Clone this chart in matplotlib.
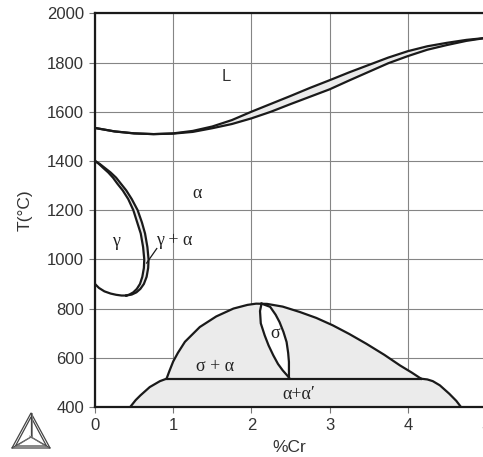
import matplotlib
matplotlib.use("Agg")
import matplotlib.pyplot as plt
from matplotlib.lines import Line2D
from matplotlib.patches import Polygon

# ---------------- data ----------------
liq_x = [0, 0.25, 0.5, 0.75, 1.0, 1.25, 1.5, 1.75, 2.0, 2.25, 2.5, 2.75, 3.0,
         3.25, 3.5, 3.75, 4.0, 4.25, 4.5, 4.75, 5.0]
liquidus_T = [1534, 1520, 1512, 1509, 1512, 1522, 1540, 1566, 1600, 1632, 1664,
              1697, 1728, 1760, 1790, 1820, 1846, 1866, 1880, 1892, 1900]
solidus_T = [1534, 1520, 1512, 1509, 1511, 1518, 1533, 1550, 1573, 1600, 1631,
             1661, 1691, 1727, 1762, 1797, 1826, 1852, 1871, 1888, 1900]

gamma_T = [1400, 1388, 1373, 1353, 1332, 1308, 1280, 1245, 1200, 1150, 1105,
           1050, 1000, 965, 929, 900, 880, 866, 857, 853]
gamma_outer_x = [0, 0.06, 0.12, 0.20, 0.27, 0.33, 0.40, 0.47, 0.545, 0.60, 0.64,
                 0.67, 0.685, 0.68, 0.66, 0.625, 0.58, 0.53, 0.47, 0.40]
gamma_inner_x = [0, 0.05, 0.10, 0.17, 0.23, 0.285, 0.355, 0.425, 0.49, 0.54, 0.585,
                 0.615, 0.63, 0.625, 0.605, 0.575, 0.535, 0.49, 0.44, 0.40]
gamma_low_x = [0.40, 0.34, 0.27, 0.20, 0.12, 0.05, 0]
gamma_low_T = [853, 853, 856, 861, 870, 884, 900]

dome_x = [0.915, 0.95, 1.0, 1.06, 1.15, 1.34, 1.55, 1.77, 1.95, 2.06, 2.2, 2.4,
          2.62, 2.83, 3.04, 3.25, 3.47, 3.7, 3.90, 4.05, 4.17]
dome_T = [515, 545, 585, 620, 665, 725, 768, 800, 815, 820, 819, 808,
          786, 762, 732, 697, 657, 612, 569, 540, 515]

gap_left_x = [0.45, 0.52, 0.58, 0.70, 0.83, 0.915]
gap_left_T = [400, 428, 447, 481, 505, 515]
gap_right_x = [4.17, 4.25, 4.32, 4.41, 4.53, 4.62, 4.68]
gap_right_T = [515, 512, 505, 488, 454, 425, 400]
eutectoid_T = 515

sigma_left_x = [2.13, 2.11, 2.12, 2.17, 2.22, 2.28, 2.34, 2.40, 2.48]
sigma_left_T = [820, 790, 740, 691, 650, 610, 575, 549, 520]
sigma_right_x = [2.13, 2.24, 2.31, 2.36, 2.41, 2.45, 2.47, 2.48, 2.48]
sigma_right_T = [820, 807, 775, 745, 705, 664, 620, 583, 520]

x_ticks = [0, 1, 2, 3, 4, 5]
y_ticks = [400, 600, 800, 1000, 1200, 1400, 1600, 1800, 2000]

# ---------------- figure ----------------
W, H = 483, 457
fig = plt.figure(figsize=(W / 100, H / 100), dpi=100)
ax = fig.add_axes([95 / W, 50 / H, 391 / W, 393.7 / H])
ax.set_xlim(0, 5)
ax.set_ylim(400, 2000)

SANS = ["Liberation Sans", "DejaVu Sans"]
SERIF = ["Liberation Serif", "DejaVu Serif"]
fill_c = "#ebebeb"
lc = "#1a1a1a"
lw = 1.6

ax.set_xticks(x_ticks)
ax.set_yticks(y_ticks)
ax.set_xticklabels([str(v) for v in x_ticks], fontfamily=SANS, fontsize=12, color="#333333")
ax.set_yticklabels([str(v) for v in y_ticks], fontfamily=SANS, fontsize=12, color="#333333")
ax.tick_params(direction="out", length=4, width=0.8, color="#777777", pad=4)
ax.grid(True, color="#858585", linewidth=0.8, zorder=0)
ax.set_axisbelow(True)
for s in ["left", "bottom", "top"]:
    ax.spines[s].set_linewidth(1.6)
    ax.spines[s].set_color(lc)
ax.spines["right"].set_visible(False)

# liquid/solid
ax.fill_between(liq_x, solidus_T, liquidus_T, color=fill_c, zorder=2, lw=0)
ax.plot(liq_x, liquidus_T, color=lc, lw=lw, zorder=4)
ax.plot(liq_x, solidus_T, color=lc, lw=lw, zorder=4)

# gamma loop
sliver = list(zip(gamma_outer_x, gamma_T)) + list(zip(gamma_inner_x[::-1], gamma_T[::-1]))
ax.add_patch(Polygon(sliver, closed=True, facecolor=fill_c, edgecolor="none", zorder=2))
ax.plot(gamma_outer_x, gamma_T, color=lc, lw=lw, zorder=4)
ax.plot(gamma_inner_x, gamma_T, color=lc, lw=lw, zorder=4)
ax.plot(gamma_low_x, gamma_low_T, color=lc, lw=lw, zorder=4)

# miscibility gap + sigma dome
low_poly = (list(zip(gap_left_x, gap_left_T)) + list(zip(gap_right_x, gap_right_T)))
ax.add_patch(Polygon(low_poly, closed=True, facecolor=fill_c, edgecolor="none", zorder=2))
ax.add_patch(Polygon(list(zip(dome_x, dome_T)), closed=True, facecolor=fill_c,
                     edgecolor="none", zorder=2))
lens = list(zip(sigma_left_x, sigma_left_T)) + list(zip(sigma_right_x[::-1], sigma_right_T[::-1]))
ax.add_patch(Polygon(lens, closed=True, facecolor="white", edgecolor="none", zorder=3))
ax.plot(dome_x, dome_T, color=lc, lw=lw, zorder=4)
ax.plot(gap_left_x, gap_left_T, color=lc, lw=lw, zorder=4)
ax.plot(gap_right_x, gap_right_T, color=lc, lw=lw, zorder=4)
ax.plot([gap_left_x[-1], gap_right_x[0]], [eutectoid_T, eutectoid_T], color=lc, lw=lw, zorder=4)
ax.plot(sigma_left_x, sigma_left_T, color=lc, lw=lw, zorder=4)
ax.plot(sigma_right_x, sigma_right_T, color=lc, lw=lw, zorder=4)

# labels
ax.text(1.68, 1742, "L", fontfamily=SANS, fontsize=12, color="#333333", ha="center", va="center", zorder=5)
ax.text(1.30, 1268, "α", fontfamily=SERIF, fontsize=13, color="#222222", ha="center", va="center", zorder=5)
ax.text(0.27, 1071, "γ", fontfamily=SERIF, fontsize=13, color="#222222", ha="center", va="center", zorder=5)
ax.text(1.02, 1075, "γ + α", fontfamily=SERIF, fontsize=13, color="#222222", ha="center", va="center", zorder=5)
ax.plot([0.79, 0.66], [1044, 985], color=lc, lw=0.9, zorder=5)
ax.text(2.30, 698, "σ", fontfamily=SERIF, fontsize=13, color="#222222", ha="center", va="center", zorder=5)
ax.text(1.53, 566, "σ + α", fontfamily=SERIF, fontsize=13, color="#222222", ha="center", va="center", zorder=5)
ax.text(2.60, 452, "α+α′", fontfamily=SERIF, fontsize=13, color="#222222", ha="center", va="center", zorder=5)

ax.set_ylabel("T(°C)", fontfamily=SANS, fontsize=12.5, color="#333333", va="center")
ax.yaxis.set_label_coords(-0.179, 0.5)
ax.set_xlabel("%Cr", fontfamily=SANS, fontsize=12.5, color="#333333", va="center")
ax.xaxis.set_label_coords(0.496, -0.104)

# logo (Thermo-Calc style tetrahedron) in figure pixel coordinates
def fp(x, y):
    return (x / W, (H - y) / H)

A, B, C, O = (12, 448), (50, 448), (31, 413), (31, 437)
for tri in ([A, B, C], [(15.5, 446), (46.5, 446), (31, 417)]):
    fig.add_artist(Polygon([fp(*p) for p in tri], closed=True, fill=False,
                           edgecolor="#444444", lw=0.9, transform=fig.transFigure))
for v in (A, B, C):
    fig.add_artist(Line2D([fp(*O)[0], fp(*v)[0]], [fp(*O)[1], fp(*v)[1]],
                          color="#444444", lw=0.9, transform=fig.transFigure))
for v, d in ((A, (1.5, -1)), (B, (-1.5, -1)), (C, (1.2, 0))):
    fig.add_artist(Line2D([fp(O[0] + d[0], O[1] + d[1])[0], fp(v[0] + d[0], v[1])[0]],
                          [fp(O[0] + d[0], O[1] + d[1])[1], fp(v[0] + d[0], v[1])[1]],
                          color="#777777", lw=0.6, transform=fig.transFigure))

fig.savefig("out.png", dpi=100)
